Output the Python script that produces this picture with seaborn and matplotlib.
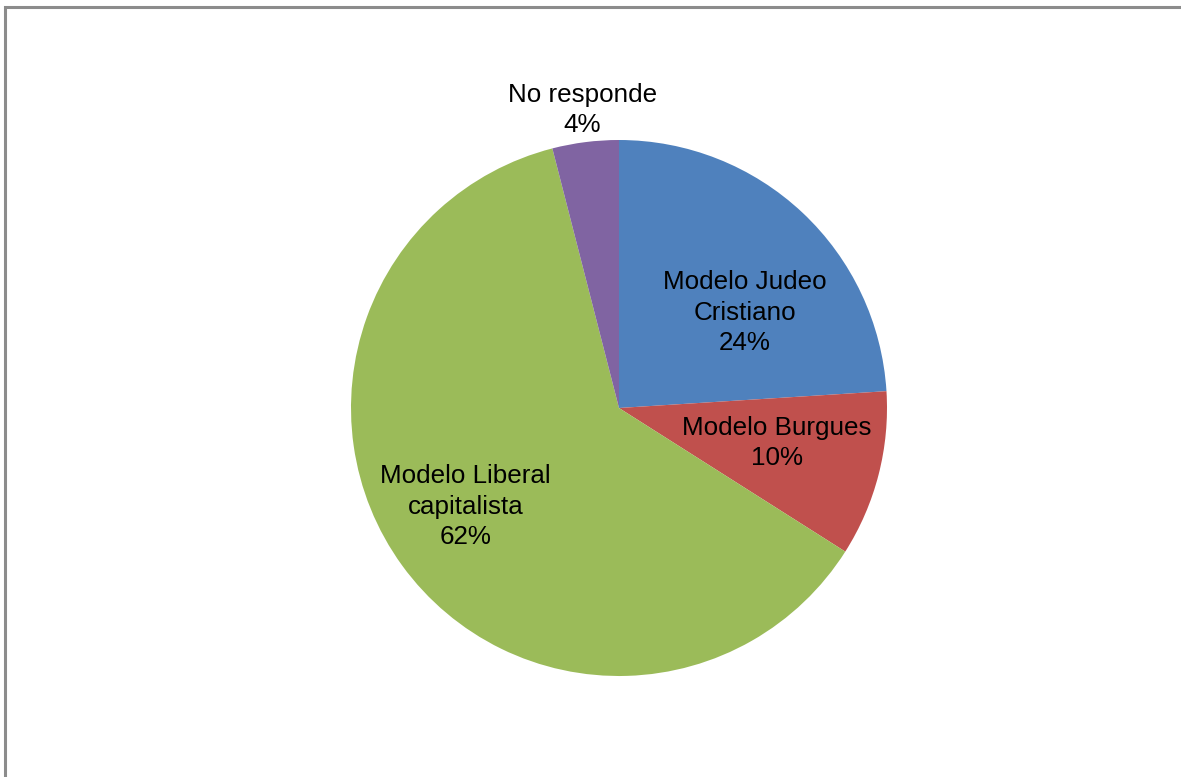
import numpy as np
import matplotlib
matplotlib.use("Agg")
import matplotlib.pyplot as plt
import seaborn as sns
from matplotlib.patches import Rectangle

sns.set_theme(style="white")
plt.rcParams['font.family'] = ['Liberation Sans', 'DejaVu Sans']

categories = ["Modelo Judeo\nCristiano", "Modelo Burgues", "Modelo Liberal\ncapitalista", "No responde"]
values = [24, 10, 62, 4]
colors = ["#4F81BD", "#C0504D", "#9BBB59", "#8064A2"]
# label anchor positions, in units of pie radius (style only)
label_pos = [(0.470, 0.356), (0.590, -0.130), (-0.573, -0.368), (-0.136, 1.112)]

W, H = 1181, 777
fig = plt.figure(figsize=(W / 100, H / 100), dpi=100)
cx, cy, r = 619, 408, 268
ax = fig.add_axes([(cx - r) / W, (H - cy - r) / H, 2 * r / W, 2 * r / H])

wedges, _ = ax.pie(values, colors=colors, startangle=90, counterclock=False,
                   radius=1.0, wedgeprops=dict(linewidth=0))
ax.set_xlim(-1, 1)
ax.set_ylim(-1, 1)
ax.set_aspect("equal")
ax.axis("off")

total = sum(values)
for cat, v, (x, y) in zip(categories, values, label_pos):
    ax.text(x, y, f"{cat}\n{v / total * 100:.0f}%", ha="center", va="center",
            fontsize=18.7, color="black", linespacing=1.34)

# outer frame (partially cropped)
fig.patches.append(Rectangle((5 / W, -0.05), 1.2, (H - 7) / H + 0.05,
                             transform=fig.transFigure, fill=False,
                             edgecolor="#8c8c8c", linewidth=2.2))

fig.savefig("out.png", dpi=100, facecolor="white")
